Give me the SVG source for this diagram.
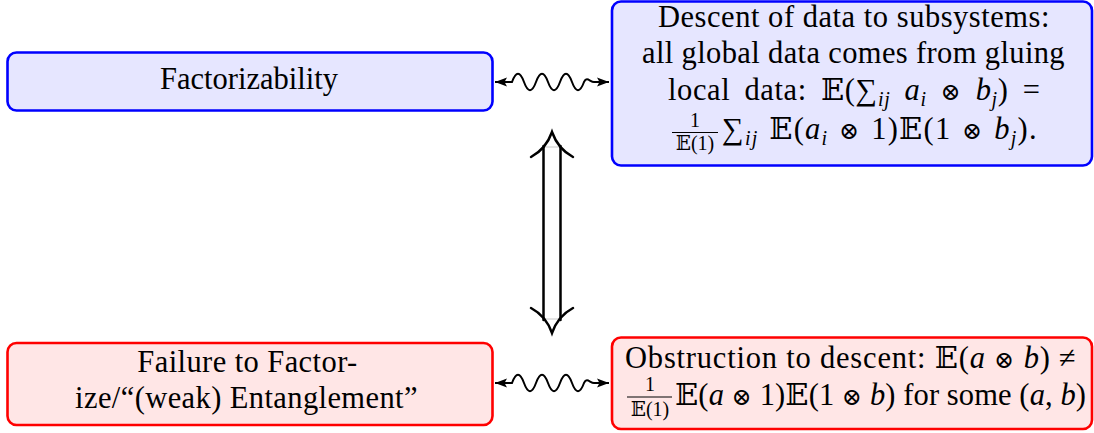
<svg xmlns="http://www.w3.org/2000/svg" width="1094" height="433" viewBox="0 0 1094 433">
<style>
text{font-size:30.5px;fill:#000}
.t{font-family:'Liberation Serif'}
.c{text-anchor:middle}
.i{font-style:italic}
.s{font-size:20px}
.m{font-family:'DejaVu Serif'}
.o{font-family:'DejaVu Serif';font-size:24px}
.blue{fill:#e6e6ff;stroke:#0000ff;stroke-width:2.6}
.red{fill:#ffe6e6;stroke:#ff0000;stroke-width:2.6}
.wave{fill:none;stroke:#000;stroke-width:2;marker-start:url(#ah);marker-end:url(#ah)}
.dbl{fill:none;stroke:#000;stroke-width:2.5;stroke-linecap:round}
.bar{stroke:#000;stroke-width:1.1}
</style>
<defs>
<marker id="ah" markerUnits="userSpaceOnUse" viewBox="0 0 12 10" refX="12" refY="5" markerWidth="12" markerHeight="10" orient="auto-start-reverse">
<path d="M0,0.5 L12,5 L0,9.5 L2.5,5 Z" fill="#000"/>
</marker>
</defs>
<rect width="1094" height="433" fill="#fff"/>

<g id="factorizability">
<rect class="blue" x="7.5" y="52.5" width="485" height="58" rx="9"/>
<text class="c t" x="249" y="89" font-family="Liberation Serif">Factorizability</text>
</g>

<g id="descent">
<rect class="blue" x="612" y="1.5" width="480" height="164" rx="9"/>
<text class="c t" x="854" y="27" style="letter-spacing:0.53px">Descent of data to subsystems:</text>
<text class="c t" x="853.5" y="63" style="letter-spacing:0.37px">all global data comes from gluing</text>
<text class="t" x="668" y="100" style="letter-spacing:0.6px;word-spacing:6px">local data: <tspan class="m">𝔼</tspan>(∑<tspan class="s i" dy="6">ij</tspan><tspan dy="-6"> </tspan><tspan class="i">a</tspan><tspan class="s i" dy="6">i</tspan><tspan dy="-6"> </tspan><tspan class="o">⊗</tspan> <tspan class="i">b</tspan><tspan class="s i" dy="6">j</tspan><tspan dy="-6">) =</tspan></text>
<text class="s c t" x="695" y="127">1</text>
<line class="bar" x1="672" y1="132.5" x2="718" y2="132.5"/>
<text class="s c t" x="695" y="150"><tspan class="m">𝔼</tspan>(1)</text>
<text class="t" x="722" y="139" style="letter-spacing:1.2px;word-spacing:2px">∑<tspan class="s i" dy="6">ij</tspan><tspan dy="-6"> </tspan><tspan class="m">𝔼</tspan>(<tspan class="i">a</tspan><tspan class="s i" dy="6">i</tspan><tspan dy="-6"> </tspan><tspan class="o">⊗</tspan> 1)<tspan class="m">𝔼</tspan>(1 <tspan class="o">⊗</tspan> <tspan class="i">b</tspan><tspan class="s i" dy="6">j</tspan><tspan dy="-6">).</tspan></text>
</g>

<g id="failure">
<rect class="red" x="7.5" y="343" width="485" height="82" rx="9"/>
<text class="c t" x="247.5" y="372" style="letter-spacing:0.42px">Failure to Factor-</text>
<text class="c t" x="246.5" y="408" font-family="Liberation Serif" letter-spacing="0.4">ize/“(weak) Entanglement”</text>
</g>

<g id="obstruction">
<rect class="red" x="612" y="337.5" width="480" height="91.5" rx="9"/>
<text class="t" x="625" y="368" style="letter-spacing:0.8px">Obstruction to descent: <tspan class="m">𝔼</tspan>(<tspan class="i">a</tspan> <tspan class="o">⊗</tspan> <tspan class="i">b</tspan>) ≠</text>
<text class="s c t" x="650" y="391">1</text>
<line class="bar" x1="627" y1="397" x2="672" y2="397"/>
<text class="s c t" x="650" y="416"><tspan class="m">𝔼</tspan>(1)</text>
<text class="t" x="675" y="405" style="letter-spacing:0.1px"><tspan class="m">𝔼</tspan>(<tspan class="i">a</tspan> <tspan class="o">⊗</tspan> 1)<tspan class="m">𝔼</tspan>(1 <tspan class="o">⊗</tspan> <tspan class="i">b</tspan>) for some (<tspan class="i">a</tspan>, <tspan class="i">b</tspan>)</text>
</g>

<g id="connectors">
<path class="wave" d="M495,82 L512,82 C516,71 520,71 524,82 C528,93 532,93 536,82 C540,71 544,71 548,82 C552,93 556,93 560,82 C564,71 568,71 572,82 C576,93 580,93 584,82 C587,76 590,82 594,82 L609,82"/>
<path class="wave" d="M495,383 L512,383 C516,372 520,372 524,383 C528,394 532,394 536,383 C540,372 544,372 548,383 C552,394 556,394 560,383 C564,372 568,372 572,383 C576,394 580,394 584,383 C587,377 590,383 594,383 L609,383"/>
<g id="equivalence">
<line x1="543.5" y1="147" x2="560.5" y2="147" stroke="#c8c8c8" stroke-width="1"/>
<line x1="543.5" y1="319" x2="560.5" y2="319" stroke="#c8c8c8" stroke-width="1"/>
<path class="dbl" d="M543.5,146 L543.5,320 M560.5,146 L560.5,320"/>
<path class="dbl" d="M531,157 Q546,149 552,132 Q558,149 573,157"/>
<path class="dbl" d="M531,308 Q546,316 552,333 Q558,316 573,308"/>
</g>
</g>
</svg>
